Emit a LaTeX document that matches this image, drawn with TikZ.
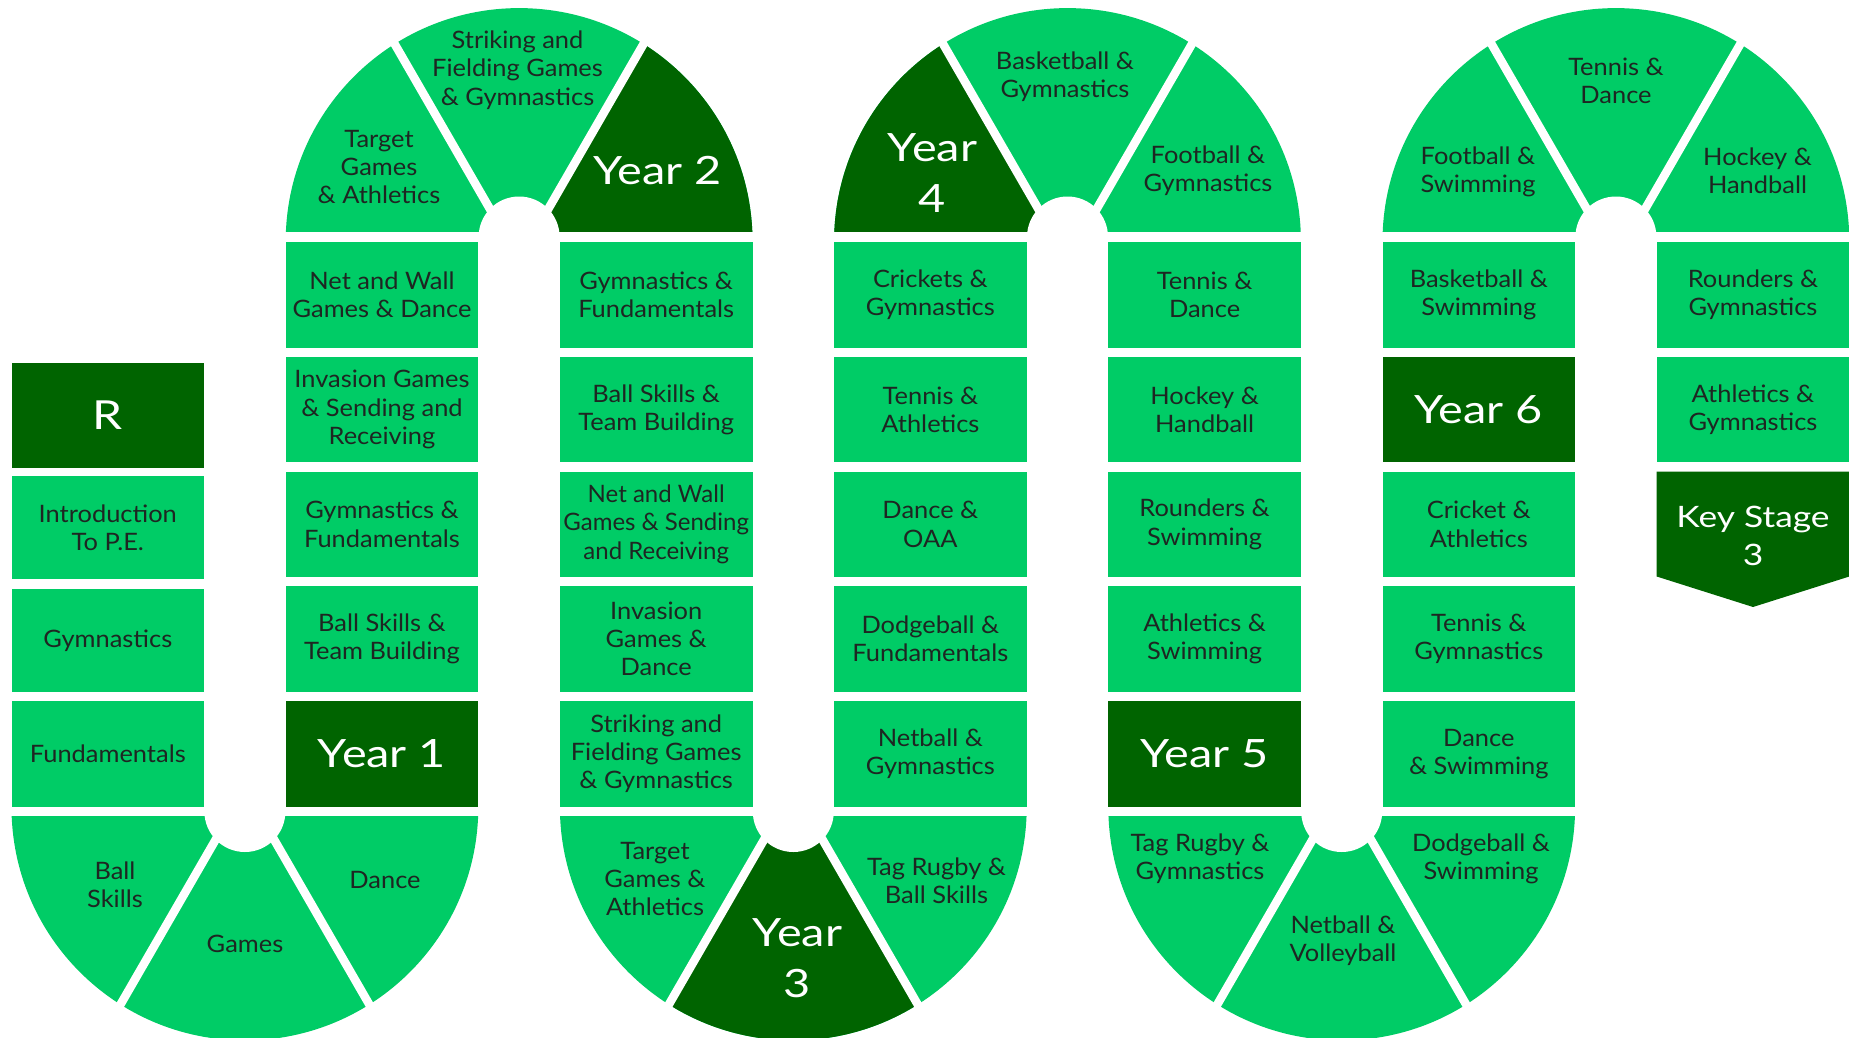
\documentclass[tikz,border=0pt]{standalone}
\usepackage{fontspec}
\setmainfont{Lato}[FakeStretch=1.06]
\newfontfamily\wideface{Lato}[FakeStretch=1.2]
\newfontfamily\plainface{Lato}
\usetikzlibrary{calc}
\definecolor{leaf}{RGB}{0,204,102}
\definecolor{forest}{RGB}{0,100,0}
\definecolor{ink}{RGB}{30,38,34}
\tikzset{
  lbl/.style={text=ink, align=center, inner sep=0pt, font=\fontsize{24}{28.3}\selectfont},
  biglbl/.style={text=white, align=center, inner sep=0pt, font=\wideface\fontsize{39}{51}\selectfont},
  kslbl/.style={text=white, align=center, inner sep=0pt, font=\wideface\fontsize{29.5}{38}\selectfont},
  tile/.style={lbl, fill=leaf, minimum width=192.6pt, minimum height=105.5pt},
  darktile/.style={biglbl, fill=forest, minimum width=192.6pt, minimum height=105.5pt},
  gapline/.style={draw=white, line width=8.5pt},
}
% half discs of the turns: pointing up (top turns) or down (bottom turns)
\newcommand\updisc[1]{(0,0) -- (180:233.4) arc[start angle=180, end angle=360, radius=233.4] -- cycle}
\newcommand\downdisc[1]{(0,0) -- (0:233.4) arc[start angle=0, end angle=180, radius=233.4] -- cycle}
\begin{document}
\begin{tikzpicture}[x=1pt, y=-1pt]
\useasboundingbox (0,0) rectangle (1849,1038);
\fill[white] (0,0) rectangle (1849,1038);

% ---------- bottom turn: R column to Year 1 column ----------
\begin{scope}[shift={(244.9,807)}]
  \fill[leaf] \downdisc{};
  \draw[gapline] (0,-18) -- +(60:300);
  \draw[gapline] (0,-18) -- +(120:300);
  \fill[white] (0,4.5) circle[radius=40.5];
  \fill[white] (-236,-1) rectangle (236,9);
\end{scope}

% ---------- top turn: Year 1 to Year 2 ----------
\begin{scope}[shift={(519.1,241.5)}]
  \fill[leaf] \updisc{};
  \begin{scope}
    \clip (0,18) -- +(300:520) -- +(0:520) -- cycle;
    \fill[forest] \updisc{};
  \end{scope}
  \draw[gapline] (0,18) -- +(240:300);
  \draw[gapline] (0,18) -- +(300:300);
  \fill[white] (0,-4.5) circle[radius=40.5];
  \fill[white] (-236,-9.5) rectangle (236,1);
\end{scope}

% ---------- bottom turn: Year 2 to Year 3 ----------
\begin{scope}[shift={(793.3,807)}]
  \fill[leaf] \downdisc{};
  \begin{scope}
    \clip (0,-18) -- +(60:520) -- +(120:520) -- cycle;
    \fill[forest] \downdisc{};
  \end{scope}
  \draw[gapline] (0,-18) -- +(60:300);
  \draw[gapline] (0,-18) -- +(120:300);
  \fill[white] (0,4.5) circle[radius=40.5];
  \fill[white] (-236,-1) rectangle (236,9);
\end{scope}

% ---------- top turn: Year 4 ----------
\begin{scope}[shift={(1067.5,241.5)}]
  \fill[leaf] \updisc{};
  \begin{scope}
    \clip (0,18) -- +(180:520) -- +(240:520) -- cycle;
    \fill[forest] \updisc{};
  \end{scope}
  \draw[gapline] (0,18) -- +(240:300);
  \draw[gapline] (0,18) -- +(300:300);
  \fill[white] (0,-4.5) circle[radius=40.5];
  \fill[white] (-236,-9.5) rectangle (236,1);
\end{scope}

% ---------- bottom turn: Year 5 to Year 6 ----------
\begin{scope}[shift={(1341.7,807)}]
  \fill[leaf] \downdisc{};
  \draw[gapline] (0,-18) -- +(60:300);
  \draw[gapline] (0,-18) -- +(120:300);
  \fill[white] (0,4.5) circle[radius=40.5];
  \fill[white] (-236,-1) rectangle (236,9);
\end{scope}

% ---------- top turn: Year 6 to Key Stage 3 ----------
\begin{scope}[shift={(1615.9,241.5)}]
  \fill[leaf] \updisc{};
  \draw[gapline] (0,18) -- +(240:300);
  \draw[gapline] (0,18) -- +(300:300);
  \fill[white] (0,-4.5) circle[radius=40.5];
  \fill[white] (-236,-9.5) rectangle (236,1);
\end{scope}

% ---------- turn labels ----------
\node[lbl] (ballskills) at (115,885) {Ball\\Skills};
\node[lbl] (games) at (245,944) {Games};
\node[lbl] (dance) at (385,880) {Dance};

\node[lbl] (targetA) at (379,167) {Target\\Games\\\& Athletics};
\node[lbl] (strikingA) at (517.5,70) {Striking and\\Fielding Games\\\& Gymnastics};
\node[biglbl] (year2) at (657.5,171) {Year 2};

\node[lbl] (targetB) at (655,879) {Target\\Games \&\\Athletics};
\node[biglbl] (year3) at (797.5,958) {Year\\3};
\node[lbl] (tagrugbyA) at (936.5,881) {Tag Rugby \&\\Ball Skills};

\node[biglbl] (year4) at (932.5,173) {Year\\4};
\node[lbl] (basketballA) at (1065,77) {Basketball \&\\Gymnastics};
\node[lbl] (footballA) at (1208,171) {Football \&\\Gymnastics};

\node[lbl] (tagrugbyB) at (1200,859) {Tag Rugby \&\\Gymnastics};
\node[lbl] (netballB) at (1343,941) {Netball \&\\Volleyball};
\node[lbl] (dodgeballB) at (1481,859) {Dodgeball \&\\Swimming};

\node[lbl] (footballB) at (1478,172) {Football \&\\Swimming};
\node[lbl] (tennisC) at (1616,81) {Tennis \&\\Dance};
\node[lbl] (hockeyB) at (1757.5,171) {Hockey \&\\Handball};

% ---------- column 1 ----------
\node[darktile, minimum height=105pt, font=\wideface\fontsize{40}{51}\selectfont] (rec) at (107.8,415.5) {R};
\node[tile, minimum height=103pt] (intro) at (107.8,527.5) {Introduction\\To P.E.};
\node[tile, minimum height=103pt] (gym1) at (107.8,640.5) {Gymnastics};
\node[tile, minimum height=106pt] (fund1) at (107.8,754) {Fundamentals};

% ---------- column 2 ----------
\node[tile] (c2a) at (382,294.75) {Net and Wall\\Games \& Dance};
\node[tile] (c2b) at (382,409.5) {Invasion Games\\\& Sending and\\Receiving};
\node[tile] (c2c) at (382,524.25) {Gymnastics \&\\Fundamentals};
\node[tile] (c2d) at (382,639) {Ball Skills \&\\Team Building};
\node[darktile] (year1) at (382,753.75) {Year 1};

% ---------- column 3 ----------
\node[tile] (c3a) at (656.2,294.75) {Gymnastics \&\\Fundamentals};
\node[tile] (c3b) at (656.2,409.5) {Ball Skills \&\\Team Building};
\node[tile, font=\plainface\fontsize{24}{28.3}\selectfont] (c3c) at (656.2,524.25) {Net and Wall\\Games \& Sending\\and Receiving};
\node[tile] (c3d) at (656.2,639) {Invasion\\Games \&\\Dance};
\node[tile] (c3e) at (656.2,753.75) {Striking and\\Fielding Games\\\& Gymnastics};

% ---------- column 4 ----------
\node[tile] (c4a) at (930.4,294.75) {Crickets \&\\Gymnastics};
\node[tile] (c4b) at (930.4,409.5) {Tennis \&\\Athletics};
\node[tile] (c4c) at (930.4,524.25) {Dance \&\\OAA};
\node[tile] (c4d) at (930.4,639) {Dodgeball \&\\Fundamentals};
\node[tile] (c4e) at (930.4,753.75) {Netball \&\\Gymnastics};

% ---------- column 5 ----------
\node[tile] (c5a) at (1204.6,294.75) {Tennis \&\\Dance};
\node[tile] (c5b) at (1204.6,409.5) {Hockey \&\\Handball};
\node[tile] (c5c) at (1204.6,524.25) {Rounders \&\\Swimming};
\node[tile] (c5d) at (1204.6,639) {Athletics \&\\Swimming};
\node[darktile] (year5) at (1204.6,753.75) {Year 5};

% ---------- column 6 ----------
\node[tile] (c6a) at (1478.8,294.75) {Basketball \&\\Swimming};
\node[darktile] (year6) at (1478.8,409.5) {Year 6};
\node[tile] (c6c) at (1478.8,524.25) {Cricket \&\\Athletics};
\node[tile] (c6d) at (1478.8,639) {Tennis \&\\Gymnastics};
\node[tile] (c6e) at (1478.8,753.75) {Dance\\\& Swimming};

% ---------- column 7 ----------
\node[tile] (c7a) at (1753,294.75) {Rounders \&\\Gymnastics};
\node[tile] (c7b) at (1753,409.5) {Athletics \&\\Gymnastics};
\fill[forest] (1656.7,471.5) -- (1849.3,471.5) -- (1849.3,576.5) -- (1753,607) -- (1656.7,576.5) -- cycle;
\node[kslbl] (ks3) at (1753,536) {Key Stage\\3};
\end{tikzpicture}
\end{document}
